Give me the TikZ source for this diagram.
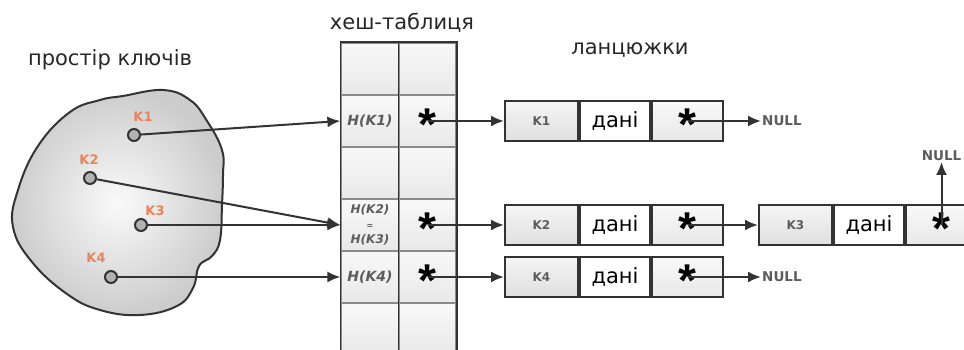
\documentclass[tikz,border=0pt]{standalone}
\usepackage{fontspec}
\setmainfont{DejaVu Sans}
\newfontfamily\starfont{Liberation Sans}
\usetikzlibrary{positioning,arrows.meta}

\definecolor{keyorange}{HTML}{E8835A}
\definecolor{inkgray}{HTML}{333333}
\definecolor{linegray}{HTML}{8A8A8A}
\definecolor{labelgray}{HTML}{5C5C5C}
\newcommand{\ptrstar}{{\starfont\fontsize{46}{46}\selectfont\bfseries\smash{\raisebox{-0.42em}{*}}}}

\begin{document}
\begin{tikzpicture}[x=1pt, y=-1pt,
  title/.style={font=\fontsize{21}{24}\selectfont, text=black!85},
  arrow/.style={draw=inkgray, line width=2pt, -{Latex[length=13pt,width=11pt]}},
  keydot/.style={circle, draw=inkgray, line width=2pt, fill=gray!60, minimum size=12pt, inner sep=0pt},
  keylabel/.style={font=\bfseries\fontsize{13}{13}\selectfont, text=keyorange},
  tcell/.style={rectangle, draw=linegray, line width=1.2pt, top color=gray!5, bottom color=gray!18, minimum height=52pt, inner sep=0pt},
  hcell/.style={tcell, minimum width=58pt},
  pcell/.style={tcell, minimum width=57pt},
  hashtext/.style={font=\bfseries\itshape\fontsize{14}{14}\selectfont, text=labelgray},
  chaincell/.style={rectangle, draw=inkgray, line width=2pt, minimum height=40pt, inner sep=0pt},
  keycell/.style={chaincell, minimum width=73pt, top color=gray!8, bottom color=gray!25, font=\bfseries\fontsize{12}{12}\selectfont, text=labelgray},
  datacell/.style={chaincell, minimum width=70pt, fill=white, font=\fontsize{21}{21}\selectfont},
  ptrcell/.style={chaincell, minimum width=71pt, top color=gray!5, bottom color=gray!18},
  nulltext/.style={font=\bfseries\fontsize{13.5}{13.5}\selectfont, text=labelgray, inner sep=1pt}]
  \useasboundingbox (0,0) rectangle (964,350);

  % key space
  \draw[draw=inkgray, line width=2pt, inner color=gray!4, outer color=gray!40]
    plot[smooth cycle, tension=0.7] coordinates {(100,100) (123,96) (163,90) (190,100) (207,121)
      (222,150) (223,175) (222,205) (220,240) (212,256) (199,266) (193,288) (177,306) (140,315)
      (100,310) (67,294) (32,262) (13,227) (18,190) (38,146) (70,112)};
  \node[title] (space) at (110,60) {простір ключів};
  \node[keydot] (kd1) at (134,135) {};
  \node[keydot] (kd2) at (90,178) {};
  \node[keydot] (kd3) at (141,225) {};
  \node[keydot] (kd4) at (111,277) {};
  \node[keylabel] (kl1) at (143,117) {K1};
  \node[keylabel] (kl2) at (89,160) {K2};
  \node[keylabel] (kl3) at (155,211) {K3};
  \node[keylabel] (kl4) at (96,258) {K4};

  % hash table
  \node[title] (table) at (402,23) {хеш-таблиця};
  \foreach \r in {1,...,6} {
    \node[hcell] (h\r) at (370,17+52*\r) {};
    \node[pcell] (p\r) at (427.5,17+52*\r) {};
  }
  \draw[inkgray, line width=1.8pt] (h6.south west) -- (h1.north west) -- (p1.north east) -- (p6.south east);
  \draw[inkgray, line width=1.8pt] (p1.north west) -- (p6.south west);
  \node[hashtext] (hk1) at (h2) {H(K1)};
  \node[hashtext, font=\bfseries\itshape\fontsize{12}{15}\selectfont, align=center] (hk23) at (h4)
    {H(K2)\\{\fontsize{8}{15}\selectfont =}\\H(K3)};
  \node[hashtext] (hk4) at (h5) {H(K4)};
  \node (s2) at (p2) {\ptrstar};
  \node (s4) at (p4) {\ptrstar};
  \node (s5) at (p5) {\ptrstar};

  % chains
  \node[title] (chains) at (630,50) {ланцюжки};
  \node[keycell] (k1) at (541.5,121) {K1};
  \node[datacell, right=0pt of k1] (d1) {дані};
  \node[ptrcell, right=0pt of d1] (c1) {\ptrstar};
  \node[keycell] (k2) at (541.5,225) {K2};
  \node[datacell, right=0pt of k2] (d2) {дані};
  \node[ptrcell, right=0pt of d2] (c2) {\ptrstar};
  \node[keycell] (k4) at (541.5,277) {K4};
  \node[datacell, right=0pt of k4] (d4) {дані};
  \node[ptrcell, right=0pt of d4] (c4) {\ptrstar};
  \node[keycell] (k3) at (795.5,225) {K3};
  \node[datacell, right=0pt of k3] (d3) {дані};
  \node[ptrcell, right=0pt of d3] (c3) {\ptrstar};
  \node[nulltext, anchor=west] (n1) at (761,121) {NULL};
  \node[nulltext, anchor=west] (n4) at (761,277) {NULL};
  \node[nulltext, anchor=south] (n3) at (c3 |- 0,162) {NULL};

  \draw[arrow] (kd1) -- (h2.west);
  \draw[arrow] (kd2) -- (h4.west);
  \draw[arrow] (kd3) -- (h4.west);
  \draw[arrow] (kd4) -- (h5.west);
  \draw[arrow] (p2.center) -- (k1.west);
  \draw[arrow] (p4.center) -- (k2.west);
  \draw[arrow] (p5.center) -- (k4.west);
  \draw[arrow] (c1.center) -- (n1.west);
  \draw[arrow] (c2.center) -- (k3.west);
  \draw[arrow] (c4.center) -- (n4.west);
  \draw[arrow] (c3.center) -- (n3.south);
\end{tikzpicture}
\end{document}
